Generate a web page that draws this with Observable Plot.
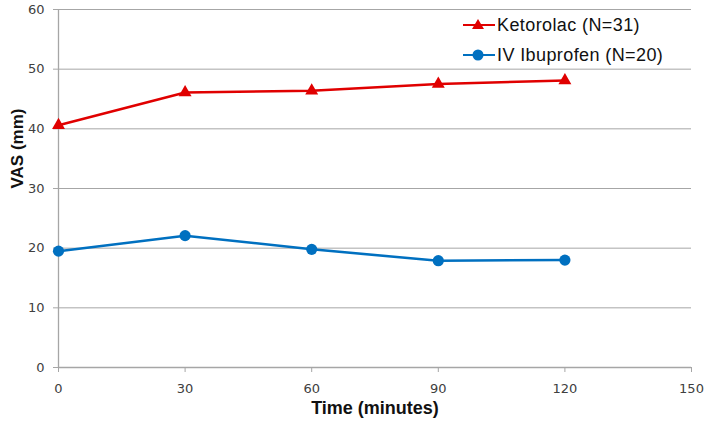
<!DOCTYPE html>
<html>
<head>
<meta charset="utf-8">
<script src="https://cdn.jsdelivr.net/npm/d3@7"></script>
<script src="https://cdn.jsdelivr.net/npm/@observablehq/plot@0.6"></script>
<style>
  html, body { margin: 0; padding: 0; background: #fff; }
  #wrap { position: relative; width: 708px; height: 426px; }
  #legend { position: absolute; left: 462px; top: 10px; font-family: "Liberation Sans", Arial, sans-serif; font-size: 18px; letter-spacing: 0.4px; color: #111; }
  #legend .row { display: flex; align-items: center; height: 30px; }
  #legend svg { margin-right: 2px; }
</style>
</head>
<body>
<div id="wrap">
  <div id="chart"></div>
  <div id="legend"></div>
</div>
<script>
const times = [0, 30, 60, 90, 120];
const ketorolac = [40.6, 46.1, 46.4, 47.5, 48.1];
const ibuprofen = [19.5, 22.1, 19.8, 17.9, 18.0];
const seriesNames = ["Ketorolac (N=31)", "IV Ibuprofen (N=20)"];
const seriesColors = ["#e00000", "#0070c0"];
const seriesSymbols = ["triangle", "circle"];
const xTicks = [0, 30, 60, 90, 120, 150];
const yTicks = [0, 10, 20, 30, 40, 50, 60];
const xTitle = "Time (minutes)";
const yTitle = "VAS (mm)";

const data = [];
times.forEach((t, i) => data.push({time: t, vas: ketorolac[i], series: seriesNames[0]}));
times.forEach((t, i) => data.push({time: t, vas: ibuprofen[i], series: seriesNames[1]}));

const chart = Plot.plot({
  width: 708,
  height: 426,
  marginLeft: 58,
  marginRight: 17,
  marginTop: 9,
  marginBottom: 59,
  style: {fontFamily: "DejaVu Sans, Verdana, sans-serif", fontSize: "13px", color: "#404040", background: "#fff"},
  x: {domain: [0, 150], label: null},
  y: {domain: [0, 60], label: null},
  marks: [
    Plot.gridY(yTicks, {stroke: "#a6a6a6", strokeOpacity: 1, strokeWidth: 1}),
    Plot.ruleX([0], {stroke: "#a6a6a6", strokeWidth: 1.3}),
    Plot.ruleY([0], {stroke: "#a6a6a6", strokeWidth: 1.3}),
    Plot.axisX({ticks: xTicks, tickSize: 5, tickPadding: 11, stroke: "#a6a6a6", fill: "#404040", label: null}),
    Plot.axisY({ticks: yTicks, tickSize: 5, tickPadding: 9, stroke: "#a6a6a6", fill: "#404040", label: null}),
    Plot.line(data.filter(d => d.series === seriesNames[0]), {x: "time", y: "vas", stroke: seriesColors[0], strokeWidth: 2.5}),
    Plot.line(data.filter(d => d.series === seriesNames[1]), {x: "time", y: "vas", stroke: seriesColors[1], strokeWidth: 2.5}),
    Plot.dot(data.filter(d => d.series === seriesNames[0]), {x: "time", y: "vas", fill: seriesColors[0], symbol: "triangle", r: 4.8, stroke: null}),
    Plot.dot(data.filter(d => d.series === seriesNames[1]), {x: "time", y: "vas", fill: seriesColors[1], symbol: "circle", r: 5.6, stroke: null}),
    Plot.text([xTitle], {frameAnchor: "bottom", dy: 46, fontWeight: "bold", fontSize: 18, fontFamily: "Liberation Sans, Arial, sans-serif", fill: "#111"}),
    Plot.text([yTitle], {frameAnchor: "left", dx: -41, rotate: -90, fontWeight: "bold", fontSize: 17, fontFamily: "Liberation Sans, Arial, sans-serif", fill: "#111"})
  ]
});
document.getElementById("chart").appendChild(chart);

const legend = document.getElementById("legend");
seriesNames.forEach((name, i) => {
  const row = document.createElement("div");
  row.className = "row";
  const sym = seriesSymbols[i] === "triangle"
    ? `<polygon points="16,1 22,11 10,11" fill="${seriesColors[i]}"/>`
    : `<circle cx="16" cy="7" r="5.5" fill="${seriesColors[i]}"/>`;
  row.innerHTML = `<svg width="33" height="14"><line x1="1" x2="33" y1="7" y2="7" stroke="${seriesColors[i]}" stroke-width="2"/>${sym}</svg><span>${name}</span>`;
  legend.appendChild(row);
});
</script>
</body>
</html>
